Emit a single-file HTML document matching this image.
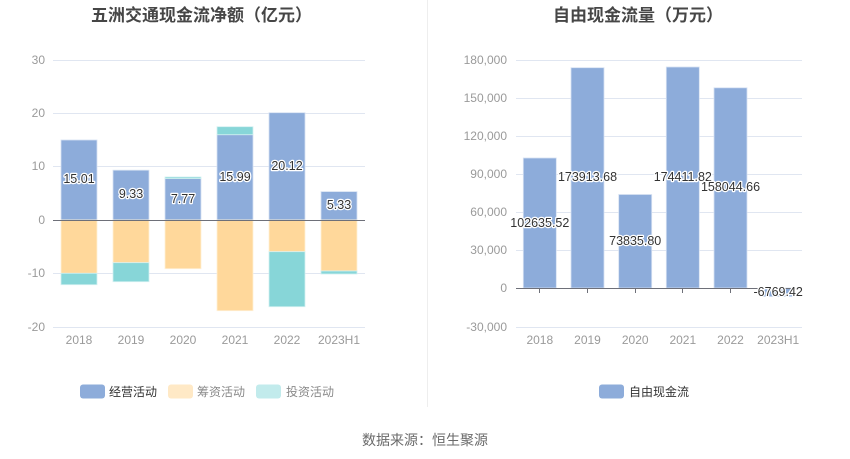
<!DOCTYPE html>
<html>
<head>
<meta charset="utf-8">
<style>
  html, body { margin:0; padding:0; background:#fff; }
  svg { display:block; }
  text { font-family: "Liberation Sans", "Noto Sans CJK SC", sans-serif; }
  .tick { font-size:12px; fill:#9a9a9a; }
  .lbl { font-size:12.5px; fill:#333; stroke:#fff; stroke-width:2.5px; paint-order:stroke; stroke-linejoin:round; }
  .title { font-size:17px; font-weight:bold; fill:#464646; }
</style>
</head>
<body>
<svg width="850" height="459" viewBox="0 0 850 459" xmlns="http://www.w3.org/2000/svg">
  <rect width="850" height="459" fill="#fff"/>
  <!-- divider -->
  <line x1="427.5" y1="0" x2="427.5" y2="407" stroke="#eeeeee" stroke-width="1"/>

  <!-- ===== LEFT CHART ===== -->
  <text class="title" x="201.5" y="21" text-anchor="middle">五洲交通现金流净额（亿元）</text>
  <g stroke="#e0e6f1" stroke-width="1">
    <line x1="53" y1="60.5" x2="365" y2="60.5"/>
    <line x1="53" y1="113.5" x2="365" y2="113.5"/>
    <line x1="53" y1="166.5" x2="365" y2="166.5"/>
    <line x1="53" y1="273.5" x2="365" y2="273.5"/>
    <line x1="53" y1="327.5" x2="365" y2="327.5"/>
  </g>
  <g class="tick" text-anchor="end">
    <text x="45" y="64">30</text>
    <text x="45" y="117">20</text>
    <text x="45" y="170">10</text>
    <text x="45" y="224">0</text>
    <text x="45" y="277">-10</text>
    <text x="45" y="331">-20</text>
  </g>
  <!-- operating (blue) -->
  <g fill="#8dacda" stroke="#d6e1f2" stroke-width="0.8">
    <rect x="61" y="140" width="36" height="80"/>
    <rect x="113" y="170.2" width="36" height="49.8"/>
    <rect x="165" y="178.6" width="36" height="41.4"/>
    <rect x="217" y="134.7" width="36" height="85.3"/>
    <rect x="269" y="112.7" width="36" height="107.3"/>
    <rect x="321" y="191.6" width="36" height="28.4"/>
  </g>
  <!-- financing (yellow) -->
  <g fill="#ffd89b" stroke="#fff0d6" stroke-width="0.8">
    <rect x="61" y="220" width="36" height="53.3"/>
    <rect x="113" y="220" width="36" height="42.7"/>
    <rect x="165" y="220" width="36" height="48.7"/>
    <rect x="217" y="220" width="36" height="90.7"/>
    <rect x="269" y="220" width="36" height="31.7"/>
    <rect x="321" y="220" width="36" height="51"/>
  </g>
  <!-- investing (teal) -->
  <g fill="#87d6d8" stroke="#d3f0f1" stroke-width="0.8">
    <rect x="61" y="273.3" width="36" height="11.4"/>
    <rect x="113" y="262.7" width="36" height="19"/>
    <rect x="165" y="177" width="36" height="1.6"/>
    <rect x="217" y="126.7" width="36" height="8"/>
    <rect x="269" y="251.7" width="36" height="55"/>
    <rect x="321" y="271" width="36" height="3"/>
  </g>
  <line x1="53" y1="220.5" x2="365" y2="220.5" stroke="#6e7079" stroke-width="1"/>
  <g class="lbl" text-anchor="middle">
    <text x="79" y="183">15.01</text>
    <text x="131" y="198">9.33</text>
    <text x="183" y="203">7.77</text>
    <text x="235" y="181">15.99</text>
    <text x="287" y="170">20.12</text>
    <text x="339" y="209">5.33</text>
  </g>
  <g class="tick" text-anchor="middle">
    <text x="79" y="344">2018</text>
    <text x="131" y="344">2019</text>
    <text x="183" y="344">2020</text>
    <text x="235" y="344">2021</text>
    <text x="287" y="344">2022</text>
    <text x="339" y="344">2023H1</text>
  </g>
  <!-- legend left -->
  <rect x="80" y="384.5" width="25" height="14" rx="3" fill="#8dacda"/>
  <text x="109" y="396" font-size="12" fill="#333">经营活动</text>
  <rect x="168" y="384.5" width="25" height="14" rx="3" fill="#ffe9c6"/>
  <text x="197" y="396" font-size="12" fill="#8a8a8a">筹资活动</text>
  <rect x="256" y="384.5" width="25" height="14" rx="3" fill="#c2ebec"/>
  <text x="286" y="396" font-size="12" fill="#8a8a8a">投资活动</text>

  <!-- ===== RIGHT CHART ===== -->
  <text class="title" x="638" y="21" text-anchor="middle">自由现金流量（万元）</text>
  <g stroke="#e0e6f1" stroke-width="1">
    <line x1="516" y1="60.5" x2="802" y2="60.5"/>
    <line x1="516" y1="98.5" x2="802" y2="98.5"/>
    <line x1="516" y1="136.5" x2="802" y2="136.5"/>
    <line x1="516" y1="174.5" x2="802" y2="174.5"/>
    <line x1="516" y1="212.5" x2="802" y2="212.5"/>
    <line x1="516" y1="250.5" x2="802" y2="250.5"/>
    <line x1="516" y1="327.5" x2="802" y2="327.5"/>
  </g>
  <g class="tick" text-anchor="end">
    <text x="507" y="64">180,000</text>
    <text x="507" y="102">150,000</text>
    <text x="507" y="140">120,000</text>
    <text x="507" y="178">90,000</text>
    <text x="507" y="216">60,000</text>
    <text x="507" y="254">30,000</text>
    <text x="507" y="292">0</text>
    <text x="507" y="331">-30,000</text>
  </g>
  <g fill="#8dacda" stroke="#d6e1f2" stroke-width="0.8">
    <rect x="523.3" y="158" width="33" height="130"/>
    <rect x="571" y="67.7" width="33" height="220.3"/>
    <rect x="618.7" y="194.5" width="33" height="93.5"/>
    <rect x="666.3" y="67" width="33" height="221"/>
    <rect x="714" y="87.8" width="33" height="200.2"/>
    <rect x="761.7" y="288" width="33" height="8.6"/>
  </g>
  <line x1="516" y1="288.5" x2="802" y2="288.5" stroke="#6e7079" stroke-width="1"/>
  <g stroke="#6e7079" stroke-width="1">
    <line x1="539.5" y1="288" x2="539.5" y2="293"/>
    <line x1="587.5" y1="288" x2="587.5" y2="293"/>
    <line x1="635.5" y1="288" x2="635.5" y2="293"/>
    <line x1="682.5" y1="288" x2="682.5" y2="293"/>
    <line x1="730.5" y1="288" x2="730.5" y2="293"/>
    <line x1="778.5" y1="288" x2="778.5" y2="293"/>
  </g>
  <g class="lbl" text-anchor="middle">
    <text x="539.8" y="227">102635.52</text>
    <text x="587.5" y="181">173913.68</text>
    <text x="635.2" y="245">73835.80</text>
    <text x="682.8" y="181">174411.82</text>
    <text x="730.5" y="191">158044.66</text>
    <text x="778.2" y="296">-6769.42</text>
  </g>
  <g class="tick" text-anchor="middle">
    <text x="539.8" y="344">2018</text>
    <text x="587.5" y="344">2019</text>
    <text x="635.2" y="344">2020</text>
    <text x="682.8" y="344">2021</text>
    <text x="730.5" y="344">2022</text>
    <text x="778.2" y="344">2023H1</text>
  </g>
  <!-- legend right -->
  <rect x="599" y="384.5" width="25" height="14" rx="3" fill="#8dacda"/>
  <text x="629" y="396" font-size="12" fill="#333">自由现金流</text>

  <!-- footer -->
  <text x="425" y="445" text-anchor="middle" font-size="14" fill="#6a6a6a">数据来源：恒生聚源</text>
</svg>
</body>
</html>
